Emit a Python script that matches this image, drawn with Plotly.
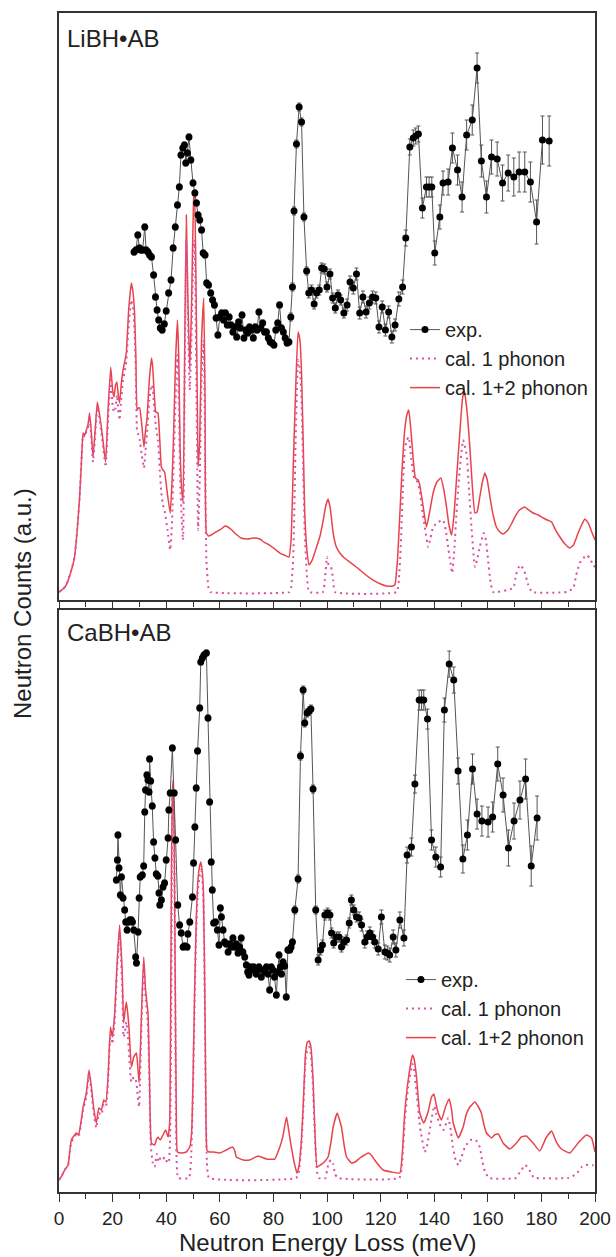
import plotly.graph_objects as go

# ---------------- DATA ----------------
x_ticks = [0, 20, 40, 60, 80, 100, 120, 140, 160, 180, 200]

# LiBH.AB experimental
li_exp_e = [
    28.0, 28.7, 29.4, 30.0, 30.6, 31.2, 32.0, 32.5, 33.2, 33.8,
    34.5, 35.3, 36.0, 36.6, 37.2, 37.8, 38.5, 39.3, 40.0, 40.9,
    41.8, 42.6, 43.4, 44.2, 44.9, 45.5, 46.2, 46.8, 47.3, 47.9,
    48.5, 49.2, 50.0, 50.7, 51.3, 51.9, 52.5, 53.2, 53.8, 54.5,
    55.1, 55.8, 56.6, 57.3, 58.0, 58.6, 59.3, 60.0, 60.7, 61.4,
    62.1, 62.8, 63.5, 64.2, 64.9, 65.6, 66.3, 67.0, 67.6, 68.3,
    69.0, 69.7, 70.4, 71.1, 71.8, 72.5, 73.2, 73.9, 74.6, 75.3,
    76.0, 76.7, 77.4, 78.1, 78.8, 79.5, 80.2, 80.9, 81.6, 82.3,
    83.0, 83.7, 84.4, 85.1, 85.8, 86.5, 87.1, 87.7, 88.6, 89.6,
    90.5, 91.4, 92.4, 93.2, 94.2, 95.2, 96.1, 97.1, 98.0, 99.0,
    100.0, 101.1, 102.1, 103.1, 104.1, 105.1, 106.3, 107.5, 108.6, 109.8,
    111.0, 112.2, 113.4, 114.6, 115.8, 117.0, 118.2, 119.4, 120.6, 121.8,
    123.0, 124.2, 125.4, 126.8, 128.2, 129.4, 130.9, 132.2, 133.1, 134.1,
    135.6, 137.1, 138.1, 139.1, 140.2, 142.1, 143.3, 145.2, 146.8, 148.7,
    150.4, 152.1, 154.2, 156.0, 157.6, 159.5, 161.4, 163.5, 165.5, 167.6,
    169.7, 171.7, 173.8, 175.9, 178.2, 180.4, 182.9]
li_exp_y = [
    348, 350, 365, 352, 350, 350, 373, 350, 348, 345,
    343, 325, 303, 290, 280, 272, 270, 276, 289, 307,
    320, 352, 373, 395, 413, 445, 452, 455, 437, 447,
    463, 440, 417, 407, 397, 385, 380, 370, 347, 345,
    317, 315, 307, 300, 295, 282, 265, 283, 287, 280,
    287, 275, 283, 275, 268, 273, 263, 278, 272, 285,
    262, 270, 267, 273, 270, 262, 273, 270, 288, 272,
    277, 268, 268, 262, 258, 257, 255, 270, 277, 295,
    272, 268, 262, 257, 258, 283, 313, 389, 456, 493,
    478, 383, 329, 307, 310, 296, 307, 310, 332, 331,
    313, 326, 302, 292, 305, 300, 287, 295, 318, 312,
    326, 287, 303, 288, 297, 303, 302, 273, 293, 270,
    288, 263, 275, 301, 313, 362, 453, 462, 464, 466,
    392, 413, 413, 413, 347, 383, 417, 418, 452, 430,
    403, 465, 480, 532, 439, 403, 443, 441, 417, 427,
    423, 428, 428, 418, 378, 460, 459]
li_exp_err = [
    3, 3, 3, 3, 3, 3, 3, 3, 3, 3,
    3, 3, 3, 3, 3, 3, 3, 3, 3, 3,
    3, 3, 3, 3, 3, 3, 3, 3, 3, 3,
    3, 3, 3, 3, 3, 3, 3, 3, 3, 3,
    3, 3, 3, 3, 3, 3, 3, 3, 3, 3,
    3, 3, 3, 3, 3, 3, 3, 3, 3, 3,
    3, 3, 3, 3, 3, 3, 3, 3, 3, 3,
    3, 3, 3, 3, 3, 3, 3, 3, 3, 3,
    3, 3, 3, 3, 3, 4, 4, 4, 4, 4,
    4, 4, 4, 5, 5, 5, 5, 5, 5, 5,
    5, 5, 5, 5, 5, 5, 5, 6, 6, 6,
    6, 6, 6, 6, 6, 6, 6, 6, 6, 6,
    6, 6, 6, 7, 7, 8, 8, 8, 8, 8,
    10, 10, 10, 10, 12, 12, 12, 13, 15, 15,
    15, 15, 15, 15, 16, 16, 17, 17, 18, 18,
    19, 20, 20, 20, 22, 24, 25]

# LiBH.AB calculated, 1 phonon
li_cal1_e = [
    0, 1.5, 2.7, 4.3, 5.8, 6.8, 7.7, 8.4, 9.0, 9.6, 10.2, 10.8, 11.4, 12.0, 12.7,
    13.5, 14.3, 15.0, 15.8, 16.6, 17.4, 18.3, 19.3, 20.0, 20.5, 21.1, 21.6, 22.1,
    22.6, 23.2, 23.9, 24.5, 25.1, 26.0, 27.0, 27.6, 28.2, 28.7, 29.1, 29.6, 30.1,
    30.9, 31.7, 32.3, 32.8, 33.7, 34.5, 35.0, 35.3, 35.7, 36.1, 36.9, 37.6, 38.2,
    38.8, 39.4, 40.5, 41.5, 42.2, 42.8, 43.5, 44.2, 44.7, 45.2, 45.8, 46.3, 46.9,
    47.5, 48.1, 48.8, 49.5, 50.2, 50.6, 51.1, 51.6, 51.9, 52.5, 53.2, 54.0, 54.5,
    55.0, 55.8, 56.5, 86.0, 86.6, 87.4, 88.3, 89.2, 89.9, 90.5, 91.1, 91.7, 92.5,
    93.3, 98.5, 99.2, 100.0, 100.6, 101.5, 102.3, 103.0, 126.0, 126.8, 127.5,
    128.3, 129.0, 129.8, 130.5, 131.5, 132.5, 133.4, 134.6, 135.5, 136.5, 137.7,
    138.6, 139.6, 141.5, 143.3, 144.3, 145.2, 146.7, 147.5, 148.3, 149.5, 150.8,
    152.1, 153.0, 153.9, 155.2, 156.0, 157.0, 158.5, 159.3, 160.1, 161.0, 162.0,
    169.5, 170.5, 172.0, 173.5, 175.1, 176.5, 189.4, 191.9, 193.0, 194.3, 196.8,
    198.0, 199.3, 200]
li_cal1_y = [
    8, 11, 15, 27, 43, 70, 103, 140, 165, 163, 168, 172, 183, 165, 138,
    165, 193, 183, 168, 150, 133, 180, 220, 195, 188, 192, 205, 190,
    180, 200, 220, 228, 238, 275, 300, 292, 270, 220, 170, 165, 160,
    145, 132, 150, 165, 200, 215, 212, 200, 185, 175, 160, 130, 107,
    95, 90, 70, 50, 80, 140, 200, 245, 200, 120, 80, 60, 220,
    360, 280, 210, 270, 350, 360, 260, 130, 70, 120, 220, 260, 150,
    40, 12, 8, 8, 12, 43, 160, 240, 230, 200, 130, 67, 25,
    8, 8, 20, 43, 35, 33, 20, 8, 8, 20, 53,
    110, 150, 160, 163, 140, 122, 120, 110, 90, 73, 53,
    62, 73, 78, 80, 70, 53, 27, 50, 87, 130, 160,
    145, 110, 73, 33, 40, 53, 67, 60, 40, 18, 8,
    12, 25, 35, 30, 15, 8, 8, 12, 25, 37, 45,
    42, 35, 33]

# LiBH.AB calculated, 1+2 phonon
li_cal12_e = [
    0, 1.5, 2.7, 4.3, 5.8, 6.8, 7.7, 8.4, 9.0, 9.6, 10.2, 10.8, 11.4, 12.0, 12.7,
    13.5, 14.3, 15.0, 15.8, 16.6, 17.4, 18.3, 19.3, 20.0, 20.5, 21.1, 21.6, 22.1,
    22.6, 23.2, 23.9, 24.5, 25.1, 26.0, 27.0, 27.6, 28.2, 28.7, 29.1, 29.6, 30.1,
    30.9, 31.7, 32.3, 32.8, 33.7, 34.5, 35.0, 35.3, 35.7, 36.1, 36.9, 37.6, 38.2,
    38.8, 39.4, 40.5, 41.5, 42.2, 42.8, 43.5, 44.2, 44.7, 45.2, 45.8, 46.3, 46.9,
    47.5, 48.1, 48.8, 49.5, 50.2, 50.6, 51.1, 51.6, 51.9, 52.5, 53.2, 54.0, 54.5,
    55.0, 55.8, 56.8, 58.5, 60.5, 62.0, 63.0, 64.5, 66.0, 68.0, 70.5, 72.5, 74.9,
    76.5, 78.6, 80.5, 82.4, 84.0, 85.8, 86.6, 87.4, 88.3, 89.2, 89.9, 90.5, 91.1,
    91.7, 92.5, 93.3, 94.5, 96.1, 97.5, 98.6, 99.6, 100.4, 101.2, 102.3, 103.5,
    104.8, 106.5, 108.5, 110.5, 112.3, 114.5, 117.2, 120.0, 122.2, 124.5, 125.3,
    126.3, 127.2, 128.0, 129.0, 129.8, 130.5, 131.3, 132.2, 133.0, 134.0, 134.6,
    135.8, 137.1, 138.3, 139.6, 141.0, 142.5, 143.6, 144.6, 145.5, 146.5, 147.4,
    148.3, 149.5, 150.5, 151.2, 152.2, 153.3, 154.2, 155.2, 156.0, 157.0, 158.0,
    158.9, 159.8, 160.8, 162.0, 163.2, 164.5, 165.8, 167.5, 169.0, 170.1, 171.8,
    173.8, 175.3, 176.9, 178.8, 180.7, 182.2, 183.8, 185.3, 186.9, 188.8, 190.6,
    192.0, 193.7, 195.0, 196.2, 197.5, 198.8, 200]
li_cal12_y = [
    8, 11, 15, 27, 43, 70, 103, 140, 167, 165, 170, 175, 187, 170, 143,
    170, 198, 188, 173, 155, 138, 190, 233, 210, 203, 215, 218, 205,
    197, 215, 230, 238, 247, 290, 317, 308, 287, 240, 190, 192, 192,
    175, 153, 170, 180, 220, 242, 232, 217, 200, 188, 187, 160, 133,
    130, 128, 105, 87, 120, 170, 240, 280, 240, 150, 110, 98, 250,
    385, 300, 230, 300, 400, 410, 320, 200, 133, 160, 260, 302, 200,
    67, 64, 65, 68, 71, 74, 73, 70, 66, 62, 61, 62, 61,
    58, 55, 51, 47, 45, 43, 60, 133, 210, 268, 260, 227, 160,
    87, 50, 35, 40, 53, 65, 80, 95, 101, 92, 67, 53,
    47, 42, 38, 34, 30, 25, 20, 16, 14, 14, 15,
    40, 87, 130, 170, 185, 190, 170, 140, 122, 120, 115,
    95, 73, 88, 107, 118, 122, 110, 93, 75, 65, 85,
    120, 165, 200, 210, 190, 153, 115, 87, 88, 103, 118,
    127, 120, 103, 85, 73, 68, 66, 70, 77, 83, 90,
    93, 90, 87, 85, 82, 80, 78, 70, 63, 56, 52,
    55, 67, 75, 81, 77, 68, 60]

# CaBH.AB experimental
ca_exp_e = [
    21.4, 21.8, 22.0, 22.4, 22.9, 23.3, 23.9, 24.5, 24.9, 25.4,
    25.9, 26.4, 27.0, 27.4, 27.9, 28.6, 28.9, 29.5, 29.9, 30.3,
    31.1, 31.6, 32.0, 32.3, 32.8, 33.2, 33.6, 33.8, 34.2, 34.8,
    35.3, 35.8, 36.3, 36.9, 37.3, 37.6, 38.2, 38.8, 39.4, 40.0,
    40.7, 41.0, 41.5, 42.3, 43.0, 43.5, 44.3, 45.0, 45.6, 46.3,
    46.9, 47.8, 48.1, 48.8, 49.8, 50.2, 50.7, 51.2, 51.7, 52.5,
    52.9, 53.5, 54.1, 55.0, 55.6, 56.2, 56.8, 57.2, 57.7, 58.4,
    59.1, 59.7, 60.2, 60.6, 61.2, 61.8, 62.4, 63.1, 63.7, 64.3,
    64.9, 65.6, 66.2, 66.8, 67.4, 68.0, 68.6, 69.3, 69.9, 70.4,
    70.9, 71.4, 71.8, 72.6, 73.6, 74.1, 74.6, 75.5, 76.2, 76.8,
    77.4, 78.0, 78.6, 79.2, 79.8, 80.4, 81.1, 81.6, 82.1, 82.6,
    83.0, 83.6, 84.2, 84.8, 85.4, 86.1, 86.6, 87.1, 88.0, 89.2,
    90.1, 91.1, 91.7, 92.6, 93.3, 94.0, 94.8, 95.8, 96.7, 97.6,
    98.3, 99.2, 100.2, 101.1, 101.7, 102.5, 103.5, 104.5, 105.4, 106.3,
    107.3, 108.3, 109.1, 110.0, 111.0, 112.0, 112.9, 114.1, 115.0, 116.0,
    117.0, 117.8, 119.1, 120.3, 121.6, 122.5, 123.4, 124.7, 125.7, 127.2,
    128.7, 129.9, 131.5, 132.8, 134.4, 135.3, 136.1, 137.5, 139.0, 140.6,
    142.4, 143.8, 145.6, 147.3, 148.9, 150.7, 152.4, 154.3, 156.0, 157.8,
    160.1, 161.8, 163.7, 165.7, 167.7, 169.8, 172.0, 174.1, 176.2, 178.4]
ca_exp_y = [
    312, 332, 357, 324, 297, 315, 294, 282, 270, 262,
    270, 272, 272, 270, 262, 235, 229, 260, 294, 315,
    317, 326, 380, 402, 417, 412, 400, 433, 411, 386,
    350, 334, 318, 316, 299, 287, 292, 305, 309, 332,
    354, 382, 399, 444, 399, 352, 287, 267, 259, 245,
    246, 245, 258, 270, 295, 329, 365, 404, 441, 484,
    530, 534, 537, 539, 474, 390, 330, 302, 269, 270,
    262, 247, 284, 275, 262, 250, 248, 240, 248, 245,
    254, 245, 248, 239, 245, 254, 240, 235, 227, 220,
    217, 225, 222, 225, 218, 222, 225, 215, 222, 220,
    225, 218, 202, 225, 222, 215, 197, 220, 237, 225,
    218, 230, 226, 195, 242, 242, 245, 250, 282, 313,
    436, 502, 469, 479, 481, 483, 403, 282, 232, 242,
    247, 277, 279, 277, 259, 249, 255, 255, 245, 250,
    252, 269, 292, 282, 275, 274, 267, 250, 255, 259,
    255, 250, 243, 275, 240, 239, 237, 255, 242, 272,
    254, 337, 345, 408, 492, 492, 492, 473, 352, 335,
    325, 482, 528, 512, 421, 333, 357, 423, 378, 371,
    370, 375, 428, 397, 344, 371, 392, 413, 326, 374]
ca_exp_err = [
    3, 3, 3, 3, 3, 3, 3, 3, 3, 3,
    3, 3, 3, 3, 3, 3, 3, 3, 3, 3,
    3, 3, 3, 3, 3, 3, 3, 3, 3, 3,
    3, 3, 3, 3, 3, 3, 3, 3, 3, 3,
    3, 3, 3, 3, 3, 3, 3, 3, 3, 3,
    3, 3, 3, 3, 3, 3, 3, 3, 3, 3,
    3, 3, 3, 3, 3, 3, 3, 3, 3, 3,
    3, 3, 3, 3, 3, 3, 3, 3, 3, 3,
    3, 3, 3, 3, 3, 3, 3, 3, 3, 3,
    3, 3, 3, 3, 3, 3, 3, 3, 3, 3,
    3, 3, 3, 3, 3, 3, 3, 3, 3, 3,
    3, 3, 3, 3, 3, 3, 3, 3, 4, 4,
    4, 4, 4, 4, 4, 4, 4, 4, 5, 5,
    5, 5, 5, 5, 5, 5, 5, 5, 5, 5,
    5, 5, 5, 5, 5, 6, 6, 6, 6, 6,
    6, 6, 6, 7, 7, 7, 7, 7, 7, 8,
    8, 8, 9, 9, 10, 10, 10, 10, 10, 10,
    10, 12, 13, 13, 13, 14, 15, 15, 15, 15,
    15, 15, 17, 17, 18, 18, 19, 20, 20, 22]

# CaBH.AB calculated, 1 phonon
ca_cal1_e = [
    0, 1.0, 2.1, 3.4, 4.0, 4.6, 5.8, 6.5, 7.3, 8.2, 9.0, 10.2, 11.2, 12.1, 12.9,
    13.9, 14.9, 15.8, 16.7, 17.5, 18.3, 19.2, 19.9, 20.8, 21.6, 22.6, 23.6, 24.1,
    24.6, 25.1, 25.6, 26.1, 27.0, 27.9, 28.9, 29.4, 29.9, 30.7, 31.6, 32.3, 33.2,
    33.8, 34.3, 35.0, 35.7, 36.5, 37.2, 38.0, 38.8, 39.5, 40.5, 41.0, 41.5, 42.0,
    42.3, 42.6, 43.0, 43.4, 43.8, 44.5, 48.5, 49.3, 50.0, 50.6, 51.2, 51.8, 52.4,
    52.9, 53.4, 53.9, 54.4, 54.8, 55.2, 56.0, 88.5, 89.5, 90.4, 91.1, 92.0, 92.7,
    93.3, 94.0, 94.8, 95.5, 96.3, 97.0, 99.5, 100.0, 100.8, 101.5, 102.3, 103.0,
    104.0, 127.0, 128.0, 129.0, 130.3, 131.9, 132.5, 133.4, 134.5, 135.0, 136.5,
    137.5, 138.5, 140.0, 140.8, 142.0, 143.5, 145.2, 146.0, 147.0, 148.0, 149.0,
    150.2, 151.5, 153.5, 155.5, 157.0, 158.0, 159.0, 160.5, 170.5, 172.0, 174.0,
    175.5, 177.0, 178.0, 190.0, 193.0, 195.0, 196.5, 199.0, 200]
ca_cal1_y = [
    12, 16, 22, 27, 40, 50, 55, 57, 55, 68, 82, 95, 118, 100, 80,
    64, 79, 77, 87, 85, 110, 158, 148, 172, 218, 260, 205, 155,
    160, 170, 160, 140, 110, 115, 110, 95, 85, 160, 230, 195, 165,
    100, 45, 29, 25, 38, 30, 35, 33, 35, 29, 30, 60, 240,
    395, 400, 340, 180, 40, 14, 14, 35, 100, 190, 262, 300, 315,
    322, 315, 290, 190, 80, 30, 14, 14, 20, 45, 80, 132, 143,
    145, 138, 105, 55, 20, 14, 14, 22, 30, 32, 28, 18,
    14, 14, 28, 70, 105, 128, 122, 100, 70, 60, 40,
    48, 65, 86, 78, 68, 62, 74, 65, 45, 32, 27,
    35, 45, 52, 52, 45, 30, 20, 14, 14, 20, 27,
    22, 15, 14, 14, 18, 25, 27, 27, 25]

# CaBH.AB calculated, 1+2 phonon
ca_cal12_e = [
    0, 1.0, 2.1, 3.4, 4.0, 4.6, 5.8, 6.5, 7.3, 8.2, 9.0, 10.2, 11.2, 12.1, 12.9,
    13.9, 14.9, 15.8, 16.7, 17.5, 18.3, 19.2, 19.9, 20.8, 21.6, 22.6, 23.6, 24.1,
    24.6, 25.1, 25.6, 26.1, 27.0, 27.9, 28.9, 29.4, 29.9, 30.7, 31.6, 32.3, 33.2,
    33.8, 34.5, 35.7, 36.3, 36.9, 37.8, 38.8, 39.8, 40.7, 41.3, 41.7, 42.0, 42.3,
    42.6, 43.0, 43.4, 43.8, 44.2, 45.6, 47.5, 48.8, 49.5, 50.0, 50.6, 51.2, 51.8,
    52.4, 52.9, 53.4, 53.9, 54.4, 54.8, 55.2, 56.0, 57.5, 60.0, 62.4, 64.7, 65.5,
    66.2, 68.7, 71.1, 74.3, 77.4, 80.5, 82.4, 83.5, 84.9, 85.8, 86.7, 87.8, 88.8,
    89.5, 90.4, 91.1, 92.0, 92.7, 93.3, 94.0, 94.8, 95.5, 96.3, 97.5, 98.6, 100.4,
    101.5, 102.3, 103.8, 105.4, 106.5, 107.3, 109.1, 110.5, 112.3, 114.0, 115.4,
    116.5, 117.8, 119.5, 121.0, 124.1, 127.2, 128.0, 129.0, 130.3, 131.9, 132.5,
    133.4, 134.6, 136.1, 137.7, 139.0, 139.9, 140.7, 141.5, 142.7, 144.2, 145.6,
    146.5, 147.1, 149.0, 150.8, 152.0, 153.3, 155.2, 156.5, 157.6, 158.5, 159.5,
    161.4, 162.5, 163.9, 165.7, 168.2, 170.7, 172.5, 174.4, 175.5, 176.9, 179.4,
    181.7, 183.8, 185.6, 187.5, 190.6, 193.7, 196.8, 198.7, 200]
ca_cal12_y = [
    12, 16, 22, 27, 40, 52, 57, 59, 57, 70, 85, 99, 122, 105, 85,
    69, 84, 82, 92, 90, 115, 165, 155, 179, 225, 267, 219, 169,
    180, 190, 180, 165, 125, 135, 139, 125, 109, 172, 235, 202, 179,
    112, 49, 47, 52, 55, 52, 57, 62, 55, 70, 200, 330, 400,
    412, 350, 200, 70, 40, 39, 40, 45, 60, 112, 200, 270, 310,
    325, 330, 322, 300, 200, 90, 42, 40, 40, 39, 42, 45, 42,
    35, 32, 32, 36, 33, 33, 45, 55, 75, 60, 45, 29, 19,
    25, 50, 85, 139, 150, 151, 145, 112, 60, 25, 27, 29, 35,
    50, 65, 79, 65, 45, 35, 29, 30, 34, 37, 39,
    37, 32, 26, 22, 20, 19, 35, 79, 112, 137, 133,
    115, 79, 69, 80, 95, 98, 88, 79, 72, 85, 93,
    82, 69, 54, 65, 78, 85, 90, 85, 79, 68, 59,
    54, 57, 58, 49, 43, 49, 55, 56, 53, 49, 41,
    54, 61, 50, 43, 39, 49, 57, 54, 40]

# ---------------- STYLE ----------------
FONT = "Liberation Sans, Arial, sans-serif"
AX = "#333333"
RED = "#e8434b"
PINK = "#dc4fa0"
GREY = "#555555"

fig = go.Figure()


def add_panel(xa, ya, legend, cal12_e, cal12_y, cal1_e, cal1_y, exp_e, exp_y, exp_err):
    fig.add_trace(go.Scatter(
        x=cal12_e, y=cal12_y, mode="lines", name="cal. 1+2 phonon",
        line=dict(color=RED, width=1.5, shape="spline", smoothing=0.4),
        xaxis=xa, yaxis=ya, legend=legend, legendrank=3))
    fig.add_trace(go.Scatter(
        x=cal1_e, y=cal1_y, mode="lines", name="cal. 1 phonon",
        line=dict(color=PINK, width=2, dash="2px,4px", shape="spline", smoothing=0.4),
        xaxis=xa, yaxis=ya, legend=legend, legendrank=2))
    fig.add_trace(go.Scatter(
        x=exp_e, y=exp_y, mode="lines+markers", name="exp.",
        line=dict(color=GREY, width=1),
        marker=dict(color="black", size=7),
        error_y=dict(type="data", array=exp_err, color=GREY, thickness=1, width=2),
        xaxis=xa, yaxis=ya, legend=legend, legendrank=1))


add_panel("x", "y", "legend", li_cal12_e, li_cal12_y, li_cal1_e, li_cal1_y,
          li_exp_e, li_exp_y, li_exp_err)
add_panel("x2", "y2", "legend2", ca_cal12_e, ca_cal12_y, ca_cal1_e, ca_cal1_y,
          ca_exp_e, ca_exp_y, ca_exp_err)

xcommon = dict(range=[0, 200], tickvals=x_ticks, showgrid=False, zeroline=False,
               showline=True, linecolor=AX, linewidth=1.5, mirror=True,
               ticks="outside", ticklen=8, tickwidth=1.2, tickcolor=AX,
               minor=dict(dtick=10, tick0=0, ticks="outside", ticklen=5,
                          tickwidth=1.2, tickcolor=AX),
               tickfont=dict(family=FONT, size=19, color="#222"))
ycommon = dict(showgrid=False, zeroline=False, showticklabels=False, ticks="",
               showline=True, linecolor=AX, linewidth=1.5, mirror=True, fixedrange=True)

legend_common = dict(font=dict(family=FONT, size=20, color="#222"),
                     bgcolor="rgba(0,0,0,0)", borderwidth=0,
                     xanchor="left", yanchor="top", tracegroupgap=0)

fig.update_layout(
    width=616, height=1257,
    margin=dict(l=59, r=21, t=13, b=65, autoexpand=False),
    paper_bgcolor="white", plot_bgcolor="white",
    showlegend=True,
    xaxis=dict(xcommon, anchor="y", showticklabels=False),
    yaxis=dict(ycommon, domain=[0.5021, 1.0], range=[0, 587]),
    xaxis2=dict(xcommon, anchor="y2", matches="x"),
    yaxis2=dict(ycommon, domain=[0.0, 0.4936], range=[0, 582]),
    legend=dict(legend_common, x=0.6455, y=0.748),
    legend2=dict(legend_common, x=0.638, y=0.1967),
    annotations=[
        dict(text="LiBH•AB", xref="paper", yref="paper", x=0.012, y=(1192 - 38) / 1179,
             xanchor="left", yanchor="middle", showarrow=False,
             font=dict(family=FONT, size=24, color="#222")),
        dict(text="CaBH•AB", xref="paper", yref="paper", x=0.012, y=(1192 - 632) / 1179,
             xanchor="left", yanchor="middle", showarrow=False,
             font=dict(family=FONT, size=24, color="#222")),
        dict(text="Neutron Energy Loss (meV)", xref="paper", yref="paper",
             x=0.5, y=(1192 - 1243) / 1179, xanchor="center", yanchor="middle",
             showarrow=False, font=dict(family=FONT, size=24, color="#222")),
        dict(text="Neutron Counts (a.u.)", xref="paper", yref="paper",
             x=(22 - 59) / 536, y=(1192 - 604) / 1179, xanchor="center", yanchor="middle",
             textangle=-90, showarrow=False, font=dict(family=FONT, size=24, color="#222")),
    ],
)

fig.write_html("out.html", config={"displayModeBar": False},
               post_script="document.body.style.margin='0';document.body.style.padding='0';")
